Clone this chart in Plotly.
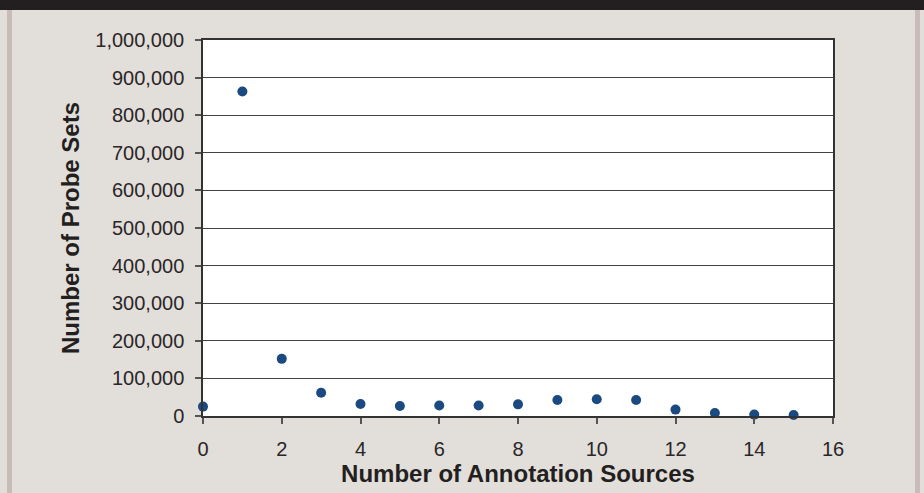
import plotly.graph_objects as go

sources = [0, 1, 2, 3, 4, 5, 6, 7, 8, 9, 10, 11, 12, 13, 14, 15]
probe_sets = [25000, 863000, 152000, 62000, 32000, 26600, 28000, 28000, 31000,
              42500, 44400, 42500, 17000, 8000, 3700, 2700]
y_ticks = [0, 100000, 200000, 300000, 400000, 500000, 600000, 700000, 800000, 900000, 1000000]
y_tick_text = ["0", "100,000", "200,000", "300,000", "400,000", "500,000",
               "600,000", "700,000", "800,000", "900,000", "1,000,000"]
x_ticks = [0, 2, 4, 6, 8, 10, 12, 14, 16]

FONT = "Liberation Sans, Arial, sans-serif"
BG = "#e2deda"

fig = go.Figure()
fig.add_trace(go.Scatter(
    x=sources, y=probe_sets, mode="markers",
    marker=dict(color="#1b4a80", size=10, line=dict(width=0)),
    showlegend=False, cliponaxis=False,
))

fig.update_layout(
    width=924, height=493,
    paper_bgcolor=BG, plot_bgcolor="white",
    margin=dict(l=203, r=91, t=40, b=77),
    font=dict(family=FONT, color="#231f20"),
    xaxis=dict(
        range=[0, 16], tickvals=x_ticks, ticks="outside", ticklen=6,
        tickcolor="#555555", tickwidth=1.5, showgrid=False, zeroline=False,
        showline=True, linecolor="#333333", linewidth=1.5, mirror=True,
        tickfont=dict(size=20, family=FONT, color="#2a2627"),
        ticklabelstandoff=8,
        title=dict(text="<b>Number of Annotation Sources</b>", standoff=2,
                   font=dict(size=24, family=FONT, color="#231f20")),
    ),
    yaxis=dict(
        range=[0, 1000000], tickvals=y_ticks, ticktext=y_tick_text,
        ticks="outside", ticklen=6, tickcolor="#555555", tickwidth=1.5,
        showgrid=True, gridcolor="#444444", gridwidth=1.2, zeroline=False,
        showline=True, linecolor="#333333", linewidth=1.5, mirror=True,
        tickfont=dict(size=20, family=FONT, color="#2a2627"),
        ticklabelstandoff=7,
        title=dict(text="<b>Number of Probe Sets</b>", standoff=9,
                   font=dict(size=24, family=FONT, color="#231f20")),
    ),
    shapes=[
        dict(type="rect", xref="paper", yref="paper", x0=-0.4, x1=1.2,
             y0=1.0 + 30 / 376, y1=1.2, fillcolor="#231f20", line=dict(width=0), layer="below"),
        dict(type="rect", xref="paper", yref="paper", x0=-196 / 630, x1=-191 / 630,
             y0=-0.3, y1=1.0 + 30 / 376, fillcolor="#c9bcb7", line=dict(width=0), layer="below"),
        dict(type="rect", xref="paper", yref="paper", x0=1 + 82 / 630, x1=1 + 87 / 630,
             y0=-0.3, y1=1.0 + 30 / 376, fillcolor="#c9bcb7", line=dict(width=0), layer="below"),
    ],
)

fig.write_html(
    "out.html",
    config={"displayModeBar": False},
    post_script="document.body.style.margin='0';document.body.style.overflow='hidden';",
)
